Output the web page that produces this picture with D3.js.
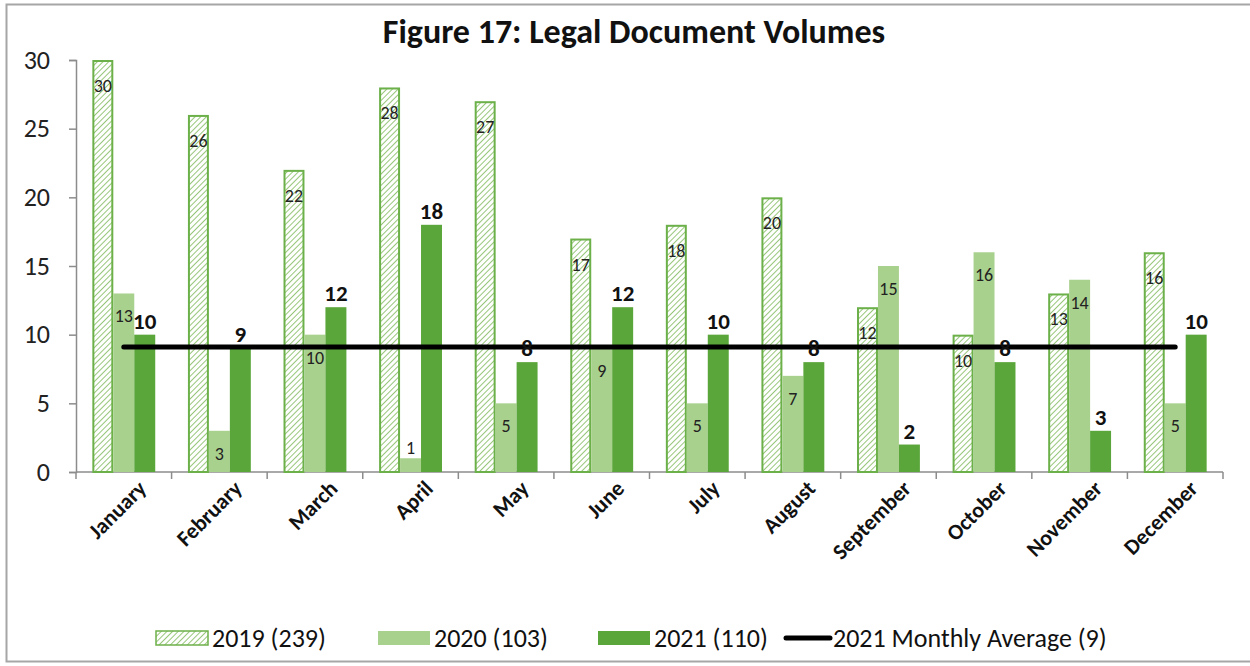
<!DOCTYPE html>
<html>
<head>
<meta charset="utf-8">
<script src="https://cdn.jsdelivr.net/npm/d3@7"></script>
<style>
  html, body { margin: 0; padding: 0; background: #fff; }
  svg { display: block; font-family: Carlito, Lato, "Liberation Sans", sans-serif; }
</style>
</head>
<body>
<svg id="chart" width="1250" height="666"></svg>
<script>
// Monthly legal document volumes
const months = ["January", "February", "March", "April", "May", "June",
                "July", "August", "September", "October", "November", "December"];
const values2019 = [30, 26, 22, 28, 27, 17, 18, 20, 12, 10, 13, 16];
const values2020 = [13, 3, 10, 1, 5, 9, 5, 7, 15, 16, 14, 5];
const values2021 = [10, 9, 12, 18, 8, 12, 10, 8, 2, 8, 3, 10];
const average2021 = 9;
const seriesNames = ["2019 (239)", "2020 (103)", "2021 (110)"];
const averageName = "2021 Monthly Average (9)";
const yTicks = [0, 5, 10, 15, 20, 25, 30];
const title = "Figure 17: Legal Document Volumes";

const svg = d3.select("#chart");
const W = 1250;
const plot = { left: 76, right: 1223, top: 60, bottom: 472 };

const colors = { hatch: "#6cb049", hatchLine: "#7cb858", light: "#a9d18e", dark: "#5ba63a" };

// diagonal hatch used for the 2019 bars
const defs = svg.append("defs");
const pat = defs.append("pattern")
  .attr("id", "hatch").attr("patternUnits", "userSpaceOnUse")
  .attr("width", 4).attr("height", 4)
  .attr("patternTransform", "rotate(45)");
pat.append("rect").attr("width", 4).attr("height", 4).attr("fill", "#fff");
pat.append("line").attr("x1", 0).attr("y1", 0).attr("x2", 0).attr("y2", 4)
  .attr("stroke", colors.hatchLine).attr("stroke-width", 1.6);

// outer frame
svg.append("rect").attr("x", 6.5).attr("y", 4.5).attr("width", W).attr("height", 657)
  .attr("fill", "none").attr("stroke", "#a6a6a6").attr("stroke-width", 2);

svg.append("text").attr("x", 634).attr("y", 43).attr("text-anchor", "middle")
  .attr("font-size", 34).attr("font-weight", "bold").attr("fill", "#111").text(title);

const x0 = d3.scaleBand().domain(months).range([plot.left, plot.right]);
const x1 = d3.scaleBand().domain([0, 1, 2]).range([0, x0.bandwidth()]).paddingOuter(0.78).paddingInner(0);
const y = d3.scaleLinear().domain([0, 30]).range([plot.bottom, plot.top]);

// y axis
const yAxis = svg.append("g").attr("transform", `translate(${plot.left},0)`)
  .call(d3.axisLeft(y).tickValues(yTicks).tickSize(7).tickPadding(19));
yAxis.select(".domain").attr("stroke", "#8c8c8c").attr("stroke-width", 1.5);
yAxis.selectAll(".tick line").attr("stroke", "#8c8c8c").attr("stroke-width", 1.5);
yAxis.selectAll(".tick text").attr("font-size", 26).attr("fill", "#222")
  .attr("font-family", "Carlito, Lato, sans-serif");

// x axis with ticks at the month boundaries
const xAxisG = svg.append("g");
xAxisG.append("line").attr("x1", plot.left).attr("x2", plot.right)
  .attr("y1", plot.bottom).attr("y2", plot.bottom)
  .attr("stroke", "#8c8c8c").attr("stroke-width", 1.5);
const boundaries = months.map(m => x0(m)).concat([plot.right]);
xAxisG.selectAll("line.tk").data(boundaries).join("line").attr("class", "tk")
  .attr("x1", d => d).attr("x2", d => d)
  .attr("y1", plot.bottom).attr("y2", plot.bottom + 7)
  .attr("stroke", "#8c8c8c").attr("stroke-width", 1.5);
xAxisG.selectAll("text").data(months).join("text")
  .attr("transform", d => `translate(${x0(d) + x0.bandwidth() / 2 + 13},${plot.bottom + 7}) rotate(-45)`)
  .attr("text-anchor", "end").attr("dy", "0.7em")
  .attr("font-size", 22).attr("font-weight", "bold").attr("fill", "#111")
  .text(d => d);

const series = [values2019, values2020, values2021];
const fills = ["url(#hatch)", colors.light, colors.dark];

series.forEach((vals, si) => {
  const inset = si === 0 ? 1 : 0;
  svg.append("g").selectAll("rect").data(vals).join("rect")
    .attr("x", (d, i) => x0(months[i]) + x1(si) + inset)
    .attr("y", d => y(d) + inset)
    .attr("width", x1.bandwidth() - 2 * inset)
    .attr("height", d => y(0) - y(d) - inset)
    .attr("fill", fills[si])
    .attr("stroke", si === 0 ? colors.hatch : "none")
    .attr("stroke-width", si === 0 ? 2 : 0);
});

// 2021 monthly average line across the month group centres
const avgX1 = x0(months[0]) + x0.bandwidth() / 2;
const avgX2 = x0(months[months.length - 1]) + x0.bandwidth() / 2;
svg.append("line").attr("x1", avgX1).attr("x2", avgX2)
  .attr("y1", y(average2021) - 1.5).attr("y2", y(average2021) - 1.5)
  .attr("stroke", "#000").attr("stroke-width", 5).attr("stroke-linecap", "round");

// value labels
const lbl = svg.append("g");
lbl.selectAll("text.l19").data(values2019).join("text").attr("class", "l19")
  .attr("x", (d, i) => x0(months[i]) + x1(0) + x1.bandwidth() / 2)
  .attr("y", d => y(d) + 32)
  .attr("text-anchor", "middle").attr("font-size", 18).attr("fill", "#222")
  .text(d => d);
lbl.selectAll("text.l20").data(values2020).join("text").attr("class", "l20")
  .attr("x", (d, i) => x0(months[i]) + x1(1) + x1.bandwidth() / 2)
  .attr("y", d => d < 2 ? y(d) - 4 : y(d) + 29)
  .attr("text-anchor", "middle").attr("font-size", 18).attr("fill", "#222")
  .text(d => d);
lbl.selectAll("text.l21").data(values2021).join("text").attr("class", "l21")
  .attr("x", (d, i) => x0(months[i]) + x1(2) + x1.bandwidth() / 2)
  .attr("y", d => y(d) - 6)
  .attr("text-anchor", "middle").attr("font-size", 23).attr("font-weight", "bold").attr("fill", "#111")
  .text(d => d);

// legend
const lg = svg.append("g").attr("font-size", 26).attr("fill", "#111");
const legendItems = [
  { x: 156, label: seriesNames[0], fill: "url(#hatch)", stroke: colors.hatch },
  { x: 378, label: seriesNames[1], fill: colors.light },
  { x: 598, label: seriesNames[2], fill: colors.dark }
];
legendItems.forEach(it => {
  lg.append("rect").attr("x", it.x).attr("y", 631).attr("width", 52).attr("height", 14)
    .attr("fill", it.fill).attr("stroke", it.stroke || "none").attr("stroke-width", 1.5);
  lg.append("text").attr("x", it.x + 56).attr("y", 647).text(it.label);
});
lg.append("line").attr("x1", 786).attr("x2", 830).attr("y1", 638).attr("y2", 638)
  .attr("stroke", "#000").attr("stroke-width", 5).attr("stroke-linecap", "round");
lg.append("text").attr("x", 833).attr("y", 647).text(averageName);
</script>
</body>
</html>
